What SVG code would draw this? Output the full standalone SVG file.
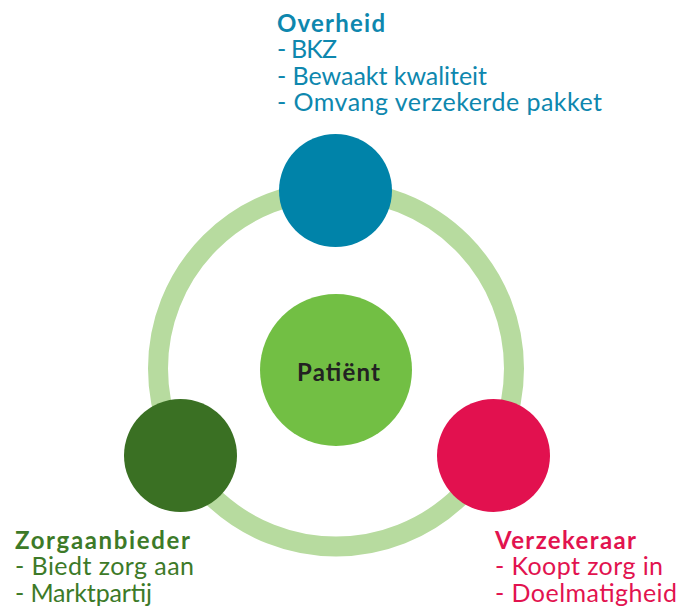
<svg xmlns="http://www.w3.org/2000/svg" width="681" height="609" viewBox="0 0 681 609">
<style>
text{font-family:Lato,"Open Sans","Liberation Sans",sans-serif;font-size:25px}
.b{font-weight:700;font-size:24px}
.blue{fill:#0E87AE}
.green{fill:#3D7A28}
.red{fill:#E2134F}
</style>
<rect width="681" height="609" fill="#fff"/>
<g id="connectors">
<circle cx="336" cy="368.5" r="178" fill="none" stroke="#B7DB9F" stroke-width="20"/>
</g>
<g id="patient">
<circle cx="336" cy="370" r="76" fill="#72BF44"/>
<text x="338.5" y="381" text-anchor="middle" class="b" fill="#222" font-size="25" textLength="83">Patiënt</text>
</g>
<g id="overheid">
<circle cx="335.5" cy="190.5" r="56.5" fill="#0083A9"/>
<text class="blue b" x="277" y="31.5" textLength="108">Overheid</text>
<text class="blue" x="277" y="58" textLength="60">- BKZ</text>
<text class="blue" x="277" y="84.5" textLength="210">- Bewaakt kwaliteit</text>
<text class="blue" x="277" y="111" textLength="325">- Omvang verzekerde pakket</text>
</g>
<g id="zorgaanbieder">
<circle cx="180.5" cy="455.5" r="56.5" fill="#3A7023"/>
<text class="green b" x="15" y="548.5" textLength="175">Zorgaanbieder</text>
<text class="green" x="15" y="575" textLength="179">- Biedt zorg aan</text>
<text class="green" x="15" y="601.5" textLength="137">- Marktpartij</text>
</g>
<g id="verzekeraar">
<circle cx="493.5" cy="455.5" r="56.5" fill="#E2114F"/>
<text class="red b" x="495" y="548.5" textLength="141">Verzekeraar</text>
<text class="red" x="495" y="575" textLength="168">- Koopt zorg in</text>
<text class="red" x="495" y="601.5" textLength="182">- Doelmatigheid</text>
</g>
</svg>
